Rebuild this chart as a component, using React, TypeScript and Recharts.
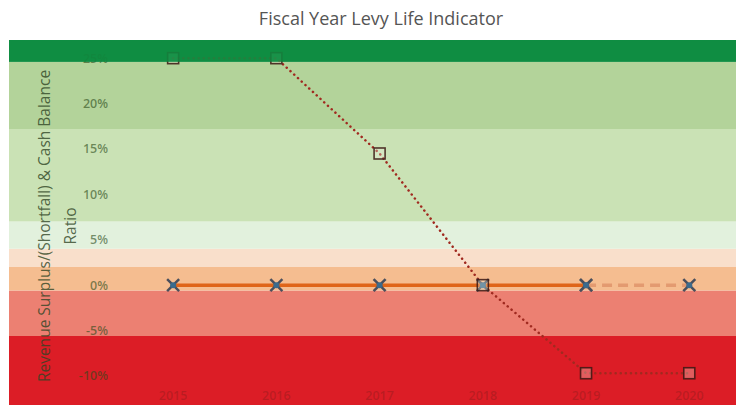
import { LineChart, Line, XAxis, YAxis, ReferenceArea } from "recharts";

const years = [2015, 2016, 2017, 2018, 2019, 2020];
const cashBalanceRatio = [25, 25, 14.5, 0, -9.7, -9.7];
const surplusActual: (number | null)[] = [0, 0, 0, 0, 0, null];
const surplusProjected: (number | null)[] = [null, null, null, null, 0, 0];
const yTicks = [-10, -5, 0, 5, 10, 15, 20, 25];

// indicator bands, bottom to top
const bandLows = [-13.2, -5.6, -0.6, 2, 4, 7, 17.2, 24.6];
const bandHighs = [-5.6, -0.6, 2, 4, 7, 17.2, 24.6, 27];
const bandColors = [
  "#dc1d26",
  "#ec8072",
  "#f5bd90",
  "#f9dfcb",
  "#e2f1dd",
  "#cae2b5",
  "#b3d39a",
  "#0f8d42",
];

const X_MIN = 2013.41;
const X_MAX = 2020.53;

const data = years.map((year, i) => ({
  year,
  cash: cashBalanceRatio[i],
  actual: surplusActual[i],
  projected: surplusProjected[i],
}));

const FONT = "'Open Sans', sans-serif";

function XMark(props: any) {
  const { cx, cy, index } = props;
  if (cx == null || cy == null) return <g key={index} />;
  const s = 6;
  return (
    <g key={index}>
      <line x1={cx - s} y1={cy - s} x2={cx + s} y2={cy + s} stroke="#4a4f5c" strokeWidth={2.5} />
      <line x1={cx - s} y1={cy + s} x2={cx + s} y2={cy - s} stroke="#4a4f5c" strokeWidth={2.5} />
      <circle cx={cx} cy={cy} r={3} fill="#3b6a8c" />
    </g>
  );
}

function SquareMark(props: any) {
  const { cx, cy, index } = props;
  if (cx == null || cy == null) return <g key={index} />;
  return (
    <rect
      key={index}
      x={cx - 5.5}
      y={cy - 5.5}
      width={11}
      height={11}
      fill="#eef2e0"
      fillOpacity={0.3}
      stroke="#3a1612"
      strokeOpacity={0.85}
      strokeWidth={1.6}
    />
  );
}

function YTick(props: any) {
  const { y, payload } = props;
  return (
    <text
      x={100}
      y={y}
      dy={4.5}
      textAnchor="end"
      fontSize={12.5}
      fontWeight={600}
      fontFamily={FONT}
      fill="#2a4a18"
      fillOpacity={0.6}
    >
      {payload.value}%
    </text>
  );
}

function XTick(props: any) {
  const { x, payload } = props;
  return (
    <text
      x={x}
      y={360}
      textAnchor="middle"
      fontSize={12.5}
      fontWeight={600}
      fontFamily={FONT}
      fill="#3a1a10"
      fillOpacity={0.22}
    >
      {payload.value}
    </text>
  );
}

function AxisTitle() {
  return (
    <g fontFamily={FONT} fontSize={15.5} fill="#2f4424" fillOpacity={0.8}>
      <text x={36} y={186} textAnchor="middle" dominantBaseline="central" transform="rotate(-90 36 186)">
        Revenue Surplus/(Shortfall) &amp; Cash Balance
      </text>
      <text x={62} y={186} textAnchor="middle" dominantBaseline="central" transform="rotate(-90 62 186)">
        Ratio
      </text>
    </g>
  );
}

export default function App() {
  return (
    <div style={{ width: 736, height: 398, fontFamily: FONT }}>
      <div
        style={{
          height: 32,
          lineHeight: "20px",
          textAlign: "center",
          fontSize: 18,
          color: "#555",
          paddingLeft: 10,
          boxSizing: "border-box",
        }}
      >
        Fiscal Year Levy Life Indicator
      </div>
      <LineChart width={736} height={366} data={data} margin={{ top: 0, right: 0, bottom: 0, left: 0 }}>
        {bandColors.map((c, i) => (
          <ReferenceArea
            key={i}
            x1={X_MIN}
            x2={X_MAX}
            y1={bandLows[i]}
            y2={bandHighs[i]}
            fill={c}
            fillOpacity={1}
            stroke="none"
            ifOverflow="hidden"
          />
        ))}
        <XAxis
          dataKey="year"
          type="number"
          domain={[X_MIN, X_MAX]}
          ticks={years}
          allowDataOverflow
          height={1}
          axisLine={false}
          tickLine={false}
          tick={(p: any) => <XTick {...p} />}
          interval={0}
        />
        <YAxis
          width={1}
          domain={[-13.2, 27]}
          ticks={yTicks}
          allowDataOverflow
          axisLine={false}
          tickLine={false}
          tick={(p: any) => <YTick {...p} />}
          label={(p: any) => <AxisTitle {...p} />}
        />
        <Line
          dataKey="actual"
          stroke="#df6519"
          strokeWidth={3.5}
          dot={(p: any) => <XMark key={p.index} {...p} />}
          isAnimationActive={false}
        />
        <Line
          dataKey="projected"
          stroke="#e39a70"
          strokeWidth={3.5}
          strokeDasharray="10 6"
          dot={(p: any) => <XMark key={p.index} {...p} />}
          isAnimationActive={false}
        />
        <Line
          dataKey="cash"
          stroke="#a02a20"
          strokeWidth={2.5}
          strokeDasharray="0.1 5"
          strokeLinecap="round"
          dot={(p: any) => <SquareMark key={p.index} {...p} />}
          isAnimationActive={false}
        />
        <ReferenceArea
          x1={X_MIN}
          x2={X_MAX}
          y1={bandLows[7]}
          y2={bandHighs[7]}
          fill={bandColors[7]}
          fillOpacity={0.85}
          stroke="none"
          ifOverflow="hidden"
          zIndex={2000}
        />
      </LineChart>
    </div>
  );
}
